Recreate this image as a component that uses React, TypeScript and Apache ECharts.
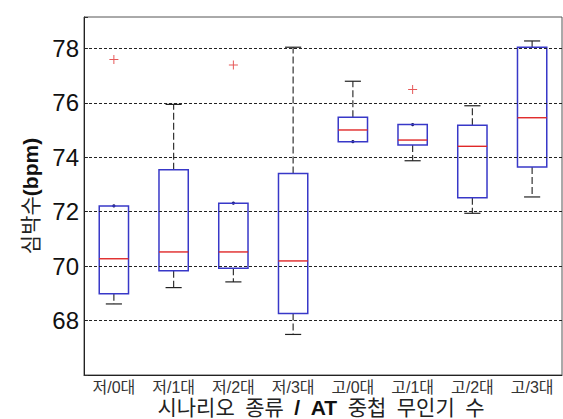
import React, { useEffect, useRef } from 'react';
import * as echarts from 'echarts';

const categories = ['저/0대', '저/1대', '저/2대', '저/3대', '고/0대', '고/1대', '고/2대', '고/3대'];
const lowerWhisker = [68.61, 69.21, 69.42, 67.49, 74.55, 73.87, 71.94, 72.54];
const q1 = [68.98, 69.83, 69.92, 68.26, 74.57, 74.45, 72.51, 73.64];
const median = [70.27, 70.52, 70.52, 70.19, 75.0, 74.63, 74.4, 75.45];
const q3 = [72.21, 73.54, 72.31, 73.4, 75.47, 75.2, 75.17, 78.04];
const upperWhisker = [72.21, 75.94, 72.31, 78.04, 76.79, 75.2, 75.89, 78.27];
const outliers: [number, number][] = [[0, 77.59], [2, 77.39], [5, 76.49]];
const yTicks = [68, 70, 72, 74, 76, 78];
const xTitle = '{a|시나리오\u2002종류\u2002}{b|/\u2002AT}{a|\u2002중첩\u2002무인기\u2002수}';
const yTitle = '{a|심박수}{b|(bpm)}';

const FONT = '"Liberation Sans", Arial, "Noto Sans CJK KR", sans-serif';

export default function App() {
  const ref = useRef<HTMLDivElement>(null);
  useEffect(() => {
    const chart = echarts.init(ref.current!, null, { renderer: 'svg' });
    const boxData = categories.map((_, i) => [i, lowerWhisker[i], q1[i], median[i], q3[i], upperWhisker[i]]);

    const renderItem = (params: any, api: any) => {
      const i = api.value(0);
      const lw = api.value(1), b1 = api.value(2), md = api.value(3), b3 = api.value(4), uw = api.value(5);
      const pLw = api.coord([i, lw]);
      const pQ1 = api.coord([i, b1]);
      const pMd = api.coord([i, md]);
      const pQ3 = api.coord([i, b3]);
      const pUw = api.coord([i, uw]);
      const band = api.size([1, 0])[0];
      const hw = band * 0.245;
      const cw = band * 0.135;
      const x = pMd[0];
      const children: any[] = [];
      const dash = { stroke: '#333', lineWidth: 1.2, lineDash: [7, 3] };
      const cap = { stroke: '#222', lineWidth: 1.2 };
      if (uw - b3 > 0.05) {
        children.push({ type: 'line', shape: { x1: x, y1: pQ3[1], x2: x, y2: pUw[1] }, style: dash });
        children.push({ type: 'line', shape: { x1: x - cw, y1: pUw[1], x2: x + cw, y2: pUw[1] }, style: cap });
      } else {
        children.push({ type: 'circle', shape: { cx: x, cy: pQ3[1], r: 1.6 }, style: { fill: '#101050' } });
      }
      if (b1 - lw > 0.05) {
        children.push({ type: 'line', shape: { x1: x, y1: pQ1[1], x2: x, y2: pLw[1] }, style: dash });
        children.push({ type: 'line', shape: { x1: x - cw, y1: pLw[1], x2: x + cw, y2: pLw[1] }, style: cap });
      } else {
        children.push({ type: 'circle', shape: { cx: x, cy: pQ1[1], r: 1.6 }, style: { fill: '#101050' } });
      }
      children.push({
        type: 'rect',
        shape: { x: x - hw, y: pQ3[1], width: 2 * hw, height: pQ1[1] - pQ3[1] },
        style: { fill: 'none', stroke: '#3838c8', lineWidth: 1.5 },
      });
      children.push({
        type: 'line',
        shape: { x1: x - hw, y1: pMd[1], x2: x + hw, y2: pMd[1] },
        style: { stroke: '#e02828', lineWidth: 1.4 },
      });
      return { type: 'group', children };
    };

    chart.setOption({
      animation: false,
      backgroundColor: '#ffffff',
      grid: {
        left: 84, top: 17, right: 1, bottom: 44,
        show: true, borderColor: '#555', borderWidth: 1,
        outerBoundsMode: 'none', containLabel: false,
      },
      graphic: [
        {
          type: 'text',
          x: 321,
          y: 407,
          style: {
            text: xTitle,
            align: 'center',
            verticalAlign: 'middle',
            rich: {
              a: { fontSize: 21, lineHeight: 22, fill: '#222', fontFamily: FONT },
              b: { fontSize: 21, lineHeight: 22, fill: '#111', fontWeight: 'bold', fontFamily: FONT },
            },
          },
        },
      ],
      xAxis: {
        type: 'category',
        data: categories,
        boundaryGap: true,
        axisLine: { show: true, lineStyle: { color: '#222', width: 1 } },
        axisTick: { show: false },
        axisLabel: { fontSize: 16, lineHeight: 16, color: '#333', margin: 4, fontFamily: FONT, interval: 0 },
        splitLine: { show: false },
      },
      yAxis: {
        type: 'value',
        min: 66,
        max: 79.15,
        interval: 2,
        axisLine: { show: true, lineStyle: { color: '#222', width: 1 } },
        axisTick: { show: true, inside: true, length: 4, lineStyle: { color: '#333' } },
        axisLabel: {
          fontSize: 24,
          color: '#111',
          margin: 5,
          fontFamily: FONT,
          formatter: (v: number) => (yTicks.includes(v) ? String(v) : ''),
        },
        splitLine: { show: false },
        name: yTitle,
        nameLocation: 'middle',
        nameRotate: 90,
        nameGap: 41,
        nameTextStyle: {
          rich: {
            a: { fontSize: 21, color: '#222', fontFamily: FONT },
            b: { fontSize: 21, color: '#111', fontWeight: 'bold', fontFamily: FONT },
          },
        },
      },
      series: [
        {
          type: 'custom',
          renderItem,
          data: boxData,
          encode: { x: 0, y: [1, 2, 3, 4, 5] },
          markLine: {
            silent: true,
            symbol: 'none',
            label: { show: false },
            lineStyle: { color: '#222', type: [3, 2], width: 1 },
            data: yTicks.map((v) => ({ yAxis: v })),
          },
          z: 3,
        },
        {
          type: 'scatter',
          data: outliers,
          symbol: 'path://M4,0h1v4h4v1h-4v4h-1v-4h-4v-1h4z',
          symbolSize: 9,
          itemStyle: { color: '#e03030' },
          z: 4,
        },
      ],
    });
    return () => chart.dispose();
  }, []);
  return <div ref={ref} style={{ position: 'fixed', left: 0, top: 0, width: 563, height: 419 }} />;
}
